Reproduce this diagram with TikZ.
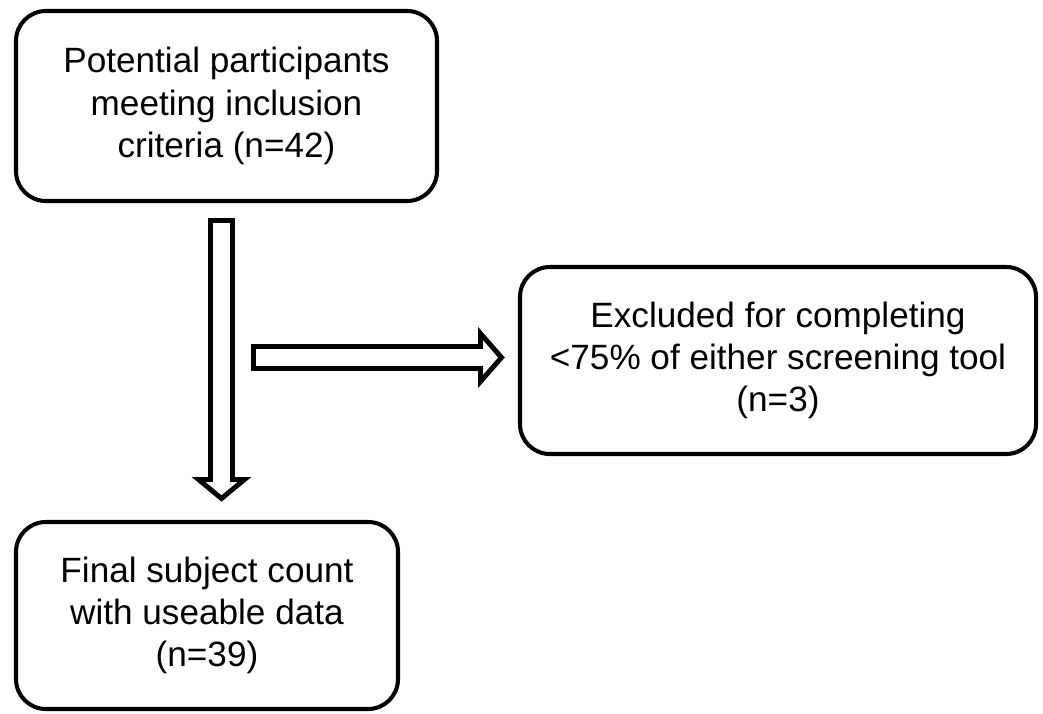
\documentclass[tikz,border=0pt]{standalone}
\usepackage{fontspec}
\setmainfont{Liberation Sans}
\usetikzlibrary{positioning, calc}

\begin{document}
\begin{tikzpicture}[
  box/.style={draw=black, line width=1.15pt, rounded corners=8.5pt, align=center,
    inner sep=0pt, font=\fontsize{10pt}{12pt}\selectfont},
  hollow/.style={draw=black, fill=white, line width=1.4pt, line join=miter}
]

% Canvas: 1 px of the sketch -> 0.01 cm, origin at top left
\useasboundingbox (0,0) rectangle (10.43,-7.13);

% Boxes
\node[box, minimum width=4.21cm, minimum height=1.90cm] (incl) at (2.265,-1.06)
  {Potential participants\\meeting inclusion\\criteria (n=42)};
\node[box, minimum width=5.16cm, minimum height=1.87cm] (excl) at (7.78,-3.605)
  {Excluded for completing\\<75\% of either screening tool\\(n=3)};
\node[box, minimum width=3.82cm, minimum height=1.87cm] (final) at (2.07,-6.155)
  {Final subject count\\with useable data\\(n=39)};

% Down arrow: incl -> final
\coordinate (d0) at ($(incl.south)+(-0.05,-0.175)$);
\coordinate (d1) at ($(final.north)+(0.145,0.215)$);
\draw[hollow] ($(d0)+(-0.11,0)$) -- ($(d1)+(-0.11,0.19)$) -- ($(d1)+(-0.23,0.19)$)
  -- (d1) -- ($(d1)+(0.23,0.19)$) -- ($(d1)+(0.11,0.19)$) -- ($(d0)+(0.11,0)$) -- cycle;

% Side arrow: -> excl
\coordinate (r1) at ($(excl.west)+(-0.165,0.03)$);
\coordinate (r0) at ($(d0 |- r1)+(0.32,0)$);
\draw[hollow] ($(r0)+(0,0.11)$) -- ($(r1)+(-0.21,0.11)$) -- ($(r1)+(-0.21,0.24)$)
  -- (r1) -- ($(r1)+(-0.21,-0.24)$) -- ($(r1)+(-0.21,-0.11)$) -- ($(r0)+(0,-0.11)$) -- cycle;

\end{tikzpicture}
\end{document}
